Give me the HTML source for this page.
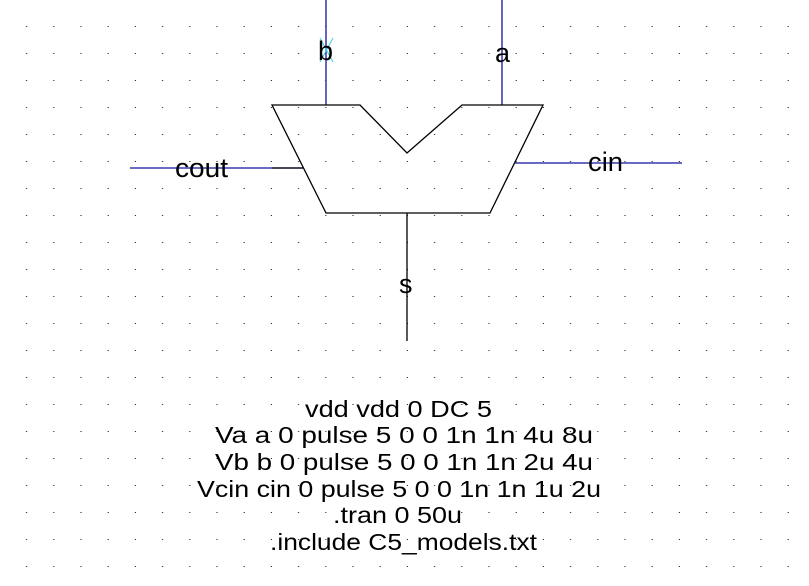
<!DOCTYPE html>
<html><head><meta charset="utf-8"><style>
html,body{margin:0;padding:0;background:#fff;width:809px;height:586px;overflow:hidden}
svg{display:block}
text{font-family:"Liberation Sans",sans-serif;fill:#000}
</style></head><body>
<svg width="809" height="586" viewBox="0 0 809 586" xmlns="http://www.w3.org/2000/svg">
<defs>
<pattern id="g" x="0" y="0" width="27.2" height="27" patternUnits="userSpaceOnUse">
<rect x="26" y="26" width="1.3" height="1.3" fill="#333"/>
</pattern>
</defs>
<rect x="0" y="0" width="809" height="586" fill="url(#g)"/>
<g stroke="#1010a0" stroke-width="1.3" fill="none">
<line x1="326" y1="0" x2="326" y2="105"/>
<line x1="502" y1="0" x2="502" y2="105"/>
<line x1="130" y1="168" x2="303" y2="168"/>
<line x1="515" y1="163" x2="682" y2="163"/>
</g>
<g stroke="#000" stroke-width="1.3" fill="none">
<polygon points="272,105 360,105 407,153 462,105 543,105 490,213 326,213"/>
<line x1="407" y1="213" x2="407" y2="341"/>
<line x1="272" y1="168" x2="303" y2="168"/>
</g>
<g stroke="#40d0e0" stroke-width="1">
<line x1="320" y1="38" x2="333" y2="62"/>
<line x1="333" y1="38" x2="320" y2="62"/>
</g>
<g font-size="27">
<text x="318" y="60">b</text>
<text x="495" y="62">a</text>
<text x="175" y="177" textLength="53" lengthAdjust="spacingAndGlyphs">cout</text>
<text x="588" y="171" textLength="35" lengthAdjust="spacingAndGlyphs">cin</text>
<text x="399" y="293">s</text>
</g>
<g font-size="23">
<text x="305" y="417" textLength="187" lengthAdjust="spacingAndGlyphs">vdd vdd 0 DC 5</text>
<text x="215" y="443" textLength="378" lengthAdjust="spacingAndGlyphs">Va a 0 pulse 5 0 0 1n 1n 4u 8u</text>
<text x="215" y="470" textLength="378" lengthAdjust="spacingAndGlyphs">Vb b 0 pulse 5 0 0 1n 1n 2u 4u</text>
<text x="197" y="497" textLength="404" lengthAdjust="spacingAndGlyphs">Vcin cin 0 pulse 5 0 0 1n 1n 1u 2u</text>
<text x="333" y="523" textLength="129" lengthAdjust="spacingAndGlyphs">.tran 0 50u</text>
<text x="270" y="550" textLength="267" lengthAdjust="spacingAndGlyphs">.include C5_models.txt</text>
</g>
</svg>
</body></html>
